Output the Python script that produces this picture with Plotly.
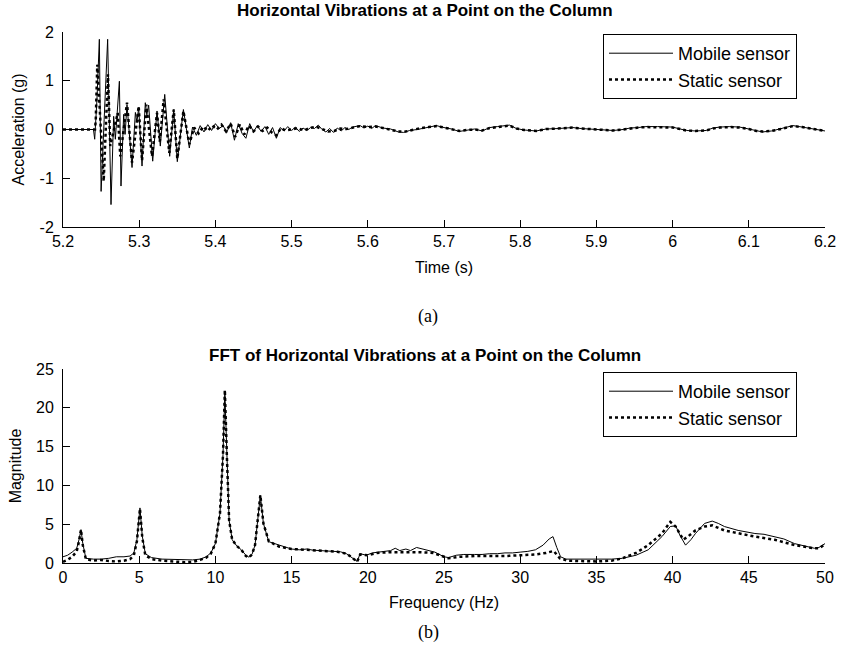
import plotly.graph_objects as go

# ---------------- Data: time domain (a) ----------------
mobile_t = [5.200, 5.240, 5.2416, 5.2445, 5.2477, 5.2500, 5.2540, 5.2586, 5.2630, 5.2665,
            5.2687, 5.2740, 5.2761, 5.2796, 5.2815, 5.2840, 5.2906, 5.2950, 5.2970, 5.2993,
            5.3037, 5.3080, 5.3100, 5.3124, 5.3177, 5.3234, 5.3277, 5.3335, 5.3400, 5.3453,
            5.3500, 5.3580, 5.3658, 5.370, 5.375, 5.380, 5.385, 5.390, 5.395, 5.400,
            5.405, 5.410, 5.415, 5.420, 5.425, 5.430, 5.435, 5.440, 5.445, 5.450,
            5.455, 5.460, 5.465, 5.470, 5.475, 5.480, 5.485, 5.490, 5.495, 5.500,
            5.505, 5.510, 5.515, 5.520, 5.525, 5.530, 5.535, 5.540, 5.545, 5.550,
            5.555, 5.560, 5.565, 5.570, 5.575, 5.580, 5.590, 5.595, 5.600, 5.605,
            5.610, 5.620, 5.630, 5.640, 5.647, 5.655, 5.665, 5.677, 5.690, 5.700,
            5.710, 5.720, 5.730, 5.740, 5.750, 5.760, 5.770, 5.786, 5.795, 5.805,
            5.821, 5.834, 5.850, 5.869, 5.880, 5.891, 5.905, 5.922, 5.935, 5.944,
            5.955, 5.965, 5.980, 5.990, 6.000, 6.010, 6.018, 6.030, 6.044, 6.053,
            6.062, 6.075, 6.088, 6.100, 6.110, 6.118, 6.130, 6.145, 6.158, 6.170,
            6.184, 6.192, 6.200]
mobile_acc = [0.0, 0.0, -0.20, 0.60, 1.85, -1.27, 0.20, 1.85, -1.54, 0.27,
              -0.20, 0.99, -1.16, 0.31, -0.10, 0.51, -0.78, 0.35, 0.15, 0.45,
              -0.75, 0.55, 0.30, 0.50, -0.65, 0.38, -0.34, 0.72, -0.55, 0.41,
              -0.66, 0.41, -0.38, 0.05, -0.12, 0.08, -0.05, 0.10, -0.02, 0.12,
              0.02, 0.08, -0.06, 0.14, -0.22, 0.12, -0.08, -0.18, 0.12, -0.05,
              0.08, -0.04, 0.06, -0.10, 0.04, -0.18, 0.04, -0.03, 0.06, -0.02,
              0.05, -0.04, 0.03, -0.02, 0.04, 0.02, 0.09, 0.00, -0.05, 0.02,
              -0.06, 0.03, -0.03, 0.04, 0.00, 0.05, 0.08, 0.03, 0.07, 0.02,
              0.08, 0.03, 0.01, -0.05, -0.06, -0.02, 0.00, 0.04, 0.08, 0.04,
              0.01, -0.04, -0.01, 0.01, -0.03, 0.04, 0.06, 0.09, 0.02, -0.01,
              -0.03, 0.01, 0.02, 0.04, 0.02, 0.01, 0.00, -0.02, 0.00, 0.03,
              0.04, 0.06, 0.06, 0.05, 0.05, 0.01, -0.02, -0.03, -0.02, 0.03,
              0.05, 0.06, 0.05, 0.01, -0.03, -0.05, -0.03, 0.03, 0.08, 0.05,
              0.01, -0.02, -0.03]

static_t = [5.200, 5.2420, 5.2430, 5.2450, 5.2534, 5.2590, 5.2620, 5.2718, 5.2752, 5.2840,
            5.2906, 5.2993, 5.3037, 5.3094, 5.3168, 5.3234, 5.3270, 5.3321, 5.3395, 5.3453,
            5.3500, 5.3580, 5.3658, 5.372, 5.378, 5.384, 5.390, 5.396, 5.402, 5.408,
            5.414, 5.420, 5.426, 5.432, 5.438, 5.444, 5.450, 5.456, 5.462, 5.468,
            5.474, 5.480, 5.486, 5.492, 5.500, 5.508, 5.516, 5.524, 5.532, 5.540,
            5.548, 5.556, 5.564, 5.572, 5.580, 5.590, 5.600, 5.610, 5.620, 5.630,
            5.640, 5.650, 5.660, 5.670, 5.680, 5.690, 5.700, 5.710, 5.720, 5.730,
            5.740, 5.750, 5.760, 5.770, 5.786, 5.795, 5.805, 5.821, 5.834, 5.850,
            5.869, 5.880, 5.891, 5.905, 5.922, 5.935, 5.944, 5.955, 5.965, 5.980,
            5.990, 6.000, 6.010, 6.018, 6.030, 6.044, 6.053, 6.062, 6.075, 6.088,
            6.100, 6.110, 6.118, 6.130, 6.145, 6.158, 6.170, 6.184, 6.192, 6.200]
static_acc = [0.0, 0.0, 0.20, 1.33, -1.06, 1.13, -0.34, 0.34, -0.55, 0.55,
              -0.68, 0.48, -0.64, 0.51, -0.55, 0.34, -0.25, 0.62, -0.48, 0.41,
              -0.60, 0.38, -0.30, 0.04, -0.08, 0.06, -0.03, 0.08, 0.00, 0.10,
              -0.04, 0.12, -0.15, 0.10, -0.10, 0.08, -0.04, 0.06, -0.03, 0.04,
              -0.06, -0.12, 0.03, -0.02, 0.00, 0.03, -0.02, 0.03, 0.06, 0.01,
              -0.04, -0.03, 0.02, 0.01, 0.04, 0.07, 0.05, 0.06, 0.03, 0.00,
              -0.04, -0.04, 0.00, 0.03, 0.05, 0.07, 0.04, 0.00, -0.03, -0.01,
              0.00, -0.02, 0.03, 0.05, 0.08, 0.02, -0.01, -0.03, 0.01, 0.02,
              0.04, 0.02, 0.01, 0.00, -0.02, 0.00, 0.02, 0.04, 0.05, 0.05,
              0.05, 0.04, 0.01, -0.02, -0.03, -0.02, 0.02, 0.04, 0.05, 0.04,
              0.01, -0.03, -0.04, -0.03, 0.02, 0.07, 0.05, 0.01, -0.02, -0.03]

# ---------------- Data: frequency domain (b) ----------------
mobile_f = [0.0, 0.3, 0.6, 0.9, 1.05, 1.18, 1.3, 1.5, 2.0, 2.5,
            3.0, 3.5, 4.0, 4.4, 4.65, 4.85, 5.05, 5.2, 5.4, 5.8,
            6.5, 7.5, 8.5, 9.0, 9.4, 9.7, 10.0, 10.3, 10.5, 10.62,
            10.75, 10.9, 11.1, 11.4, 11.7, 12.0, 12.2, 12.4, 12.6, 12.8,
            12.95, 13.15, 13.5, 14.2, 15.0, 15.5, 16.0, 16.4, 17.0, 17.5,
            18.2, 18.6, 18.9, 19.3, 19.5, 19.9, 20.3, 20.6, 21.0, 21.5,
            21.8, 22.1, 22.5, 22.8, 23.2, 23.6, 24.0, 24.4, 25.0, 25.3,
            25.8, 26.3, 27.0, 27.5, 28.0, 28.5, 29.0, 29.5, 30.0, 30.5,
            31.0, 31.5, 31.9, 32.15, 32.4, 32.65, 33.0, 34.0, 35.0, 36.0,
            36.7, 37.6, 38.4, 39.3, 39.85, 40.2, 40.5, 40.85, 41.2, 41.5,
            42.1, 42.6, 43.0, 43.4, 44.3, 45.4, 46.0, 46.7, 47.3, 48.0,
            48.6, 49.3, 49.6, 50.0]
mobile_mag = [0.8, 1.0, 1.4, 1.9, 3.0, 4.3, 2.5, 0.6, 0.5, 0.5,
              0.6, 0.8, 0.8, 0.9, 1.3, 3.0, 7.1, 3.5, 1.2, 0.7,
              0.5, 0.45, 0.4, 0.5, 0.8, 1.3, 2.5, 6.4, 14.0, 22.0,
              14.0, 5.5, 3.0, 2.2, 1.7, 1.0, 0.75, 1.1, 2.3, 6.4,
              8.7, 5.1, 2.75, 2.3, 1.8, 1.7, 1.8, 1.65, 1.6, 1.55,
              1.45, 1.2, 0.8, 0.2, 1.2, 1.0, 1.3, 1.4, 1.5, 1.6,
              1.9, 1.6, 1.8, 1.6, 2.0, 1.8, 1.6, 1.4, 0.8, 0.7,
              1.0, 1.1, 1.1, 1.1, 1.2, 1.2, 1.3, 1.3, 1.4, 1.5,
              1.7, 2.3, 3.1, 3.4, 2.0, 0.8, 0.5, 0.5, 0.5, 0.5,
              0.6, 1.0, 1.7, 3.4, 4.7, 4.8, 3.5, 2.3, 3.0, 3.8,
              5.1, 5.4, 5.1, 4.7, 4.2, 3.8, 3.7, 3.4, 3.1, 2.5,
              2.2, 1.9, 2.0, 2.5]

static_f = [0.0, 0.3, 0.6, 0.9, 1.05, 1.18, 1.3, 1.5, 2.0, 2.5,
            3.0, 3.5, 4.0, 4.4, 4.65, 4.85, 5.05, 5.2, 5.4, 5.8,
            6.5, 7.5, 8.0, 8.5, 9.0, 9.4, 9.7, 10.0, 10.3, 10.5,
            10.62, 10.75, 10.9, 11.1, 11.4, 11.7, 12.0, 12.2, 12.4, 12.6,
            12.8, 12.95, 13.15, 13.5, 14.2, 15.0, 16.0, 17.0, 18.0, 18.6,
            18.9, 19.3, 19.5, 20.0, 20.6, 21.5, 22.5, 23.4, 24.3, 25.0,
            25.3, 26.0, 27.0, 28.0, 29.0, 30.0, 31.0, 31.7, 32.2, 32.6,
            33.1, 34.0, 35.0, 36.0, 36.7, 37.6, 38.4, 39.3, 39.85, 40.2,
            40.7, 41.0, 41.5, 42.1, 42.6, 43.4, 44.3, 45.4, 46.7, 48.0,
            49.3, 49.6, 50.0]
static_mag = [0.15, 0.4, 0.8, 1.5, 2.8, 4.3, 2.3, 0.5, 0.3, 0.4,
              0.25, 0.2, 0.3, 0.5, 1.0, 2.8, 7.0, 3.3, 1.0, 0.5,
              0.3, 0.2, 0.1, 0.15, 0.4, 0.7, 1.2, 2.5, 6.4, 14.0,
              22.3, 14.0, 5.5, 3.0, 2.2, 1.7, 0.9, 0.7, 1.1, 2.3,
              6.4, 8.75, 5.1, 2.8, 2.1, 1.8, 1.7, 1.6, 1.45, 1.2,
              0.8, 0.15, 1.1, 1.0, 1.3, 1.4, 1.4, 1.4, 1.3, 0.8,
              0.6, 0.8, 0.9, 0.9, 0.9, 1.0, 1.1, 1.3, 1.55, 0.6,
              0.3, 0.25, 0.2, 0.3, 0.6, 1.3, 2.3, 3.8, 5.3, 4.7,
              3.0, 3.4, 4.2, 4.7, 4.85, 4.2, 3.8, 3.4, 3.0, 2.3,
              1.9, 1.9, 2.4]

# ---------------- Tick labels ----------------
time_ticks = [5.2, 5.3, 5.4, 5.5, 5.6, 5.7, 5.8, 5.9, 6.0, 6.1, 6.2]
time_ticktext = ["5.2", "5.3", "5.4", "5.5", "5.6", "5.7", "5.8", "5.9", "6", "6.1", "6.2"]
acc_ticks = [-2, -1, 0, 1, 2]
acc_ticktext = ["-2", "-1", "0", "1", "2"]
freq_ticks = [0, 5, 10, 15, 20, 25, 30, 35, 40, 45, 50]
mag_ticks = [0, 5, 10, 15, 20, 25]

W, H = 841, 646
OFF = 0  # body margin removed below, figure sits at the window origin
FONT = "Arial, Liberation Sans, Helvetica, sans-serif"
TICK_SIZE = 16
LABEL_SIZE = 16


def px(x):
    return (x - OFF) / W


def py(y):
    return 1 - (y - OFF) / H


fig = go.Figure()
fig.add_trace(go.Scatter(x=mobile_t, y=mobile_acc, mode="lines", name="Mobile sensor",
                         line=dict(color="black", width=1), xaxis="x", yaxis="y", legend="legend"))
fig.add_trace(go.Scatter(x=static_t, y=static_acc, mode="lines", name="Static sensor",
                         line=dict(color="black", width=2.5, dash="dot"), xaxis="x", yaxis="y", legend="legend"))
fig.add_trace(go.Scatter(x=mobile_f, y=mobile_mag, mode="lines", name="Mobile sensor",
                         line=dict(color="black", width=1), xaxis="x2", yaxis="y2", legend="legend2"))
fig.add_trace(go.Scatter(x=static_f, y=static_mag, mode="lines", name="Static sensor",
                         line=dict(color="black", width=2.5, dash="dot"), xaxis="x2", yaxis="y2", legend="legend2"))

xdom = [px(63), px(825)]
axis_common = dict(showline=True, linecolor="black", linewidth=1, ticks="inside", ticklen=7,
                   tickcolor="black", tickwidth=1, showgrid=False, zeroline=False, mirror=False,
                   automargin=False,
                   tickfont=dict(family=FONT, size=TICK_SIZE, color="black"))
title_font = dict(family=FONT, size=LABEL_SIZE, color="black")

legend_common = dict(bordercolor="black", borderwidth=1, bgcolor="white",
                     font=dict(family=FONT, size=18, color="black"),
                     xanchor="right", yanchor="top", itemwidth=64, tracegroupgap=0)

fig.update_layout(
    width=W, height=H, margin=dict(l=0, r=0, t=0, b=0, autoexpand=False),
    paper_bgcolor="white", plot_bgcolor="white",
    xaxis=dict(domain=xdom, range=[5.2, 6.2], tickvals=time_ticks, ticktext=time_ticktext,
               anchor="y", title=dict(text="Time (s)", font=title_font, standoff=12),
               **axis_common),
    yaxis=dict(domain=[py(227), py(32)], range=[-2, 2], tickvals=acc_ticks,
               ticktext=acc_ticktext, anchor="x", ticklabelstandoff=5,
               title=dict(text="Acceleration (g)", font=title_font, standoff=10),
               **axis_common),
    xaxis2=dict(domain=xdom, range=[0, 50], tickvals=freq_ticks, anchor="y2",
                title=dict(text="Frequency (Hz)", font=title_font, standoff=11),
                **axis_common),
    yaxis2=dict(domain=[py(563), py(369)], range=[0, 25], tickvals=mag_ticks, anchor="x2",
                ticklabelstandoff=5,
                title=dict(text="Magnitude", font=title_font, standoff=10),
                **axis_common),
    legend=dict(x=px(797), y=py(34), **legend_common),
    legend2=dict(x=px(797), y=py(372), **legend_common),
    showlegend=True,
)

annots = [
    dict(text="<b>Horizontal Vibrations at a Point on the Column</b>", x=px(425), y=py(11),
         font=dict(family=FONT, size=17, color="black")),
    dict(text="<b>FFT of Horizontal Vibrations at a Point on the Column</b>", x=px(425), y=py(355),
         font=dict(family=FONT, size=17, color="black")),
    dict(text="(a)", x=px(428), y=py(316),
         font=dict(family="Times New Roman, Liberation Serif, serif", size=18, color="black")),
    dict(text="(b)", x=px(428), y=py(632),
         font=dict(family="Times New Roman, Liberation Serif, serif", size=18, color="black")),
]
for a in annots:
    fig.add_annotation(xref="paper", yref="paper", showarrow=False, xanchor="center", yanchor="middle", **a)

fig.write_html("out.html", config={"displayModeBar": False},
               post_script="document.body.style.margin='0px';")
